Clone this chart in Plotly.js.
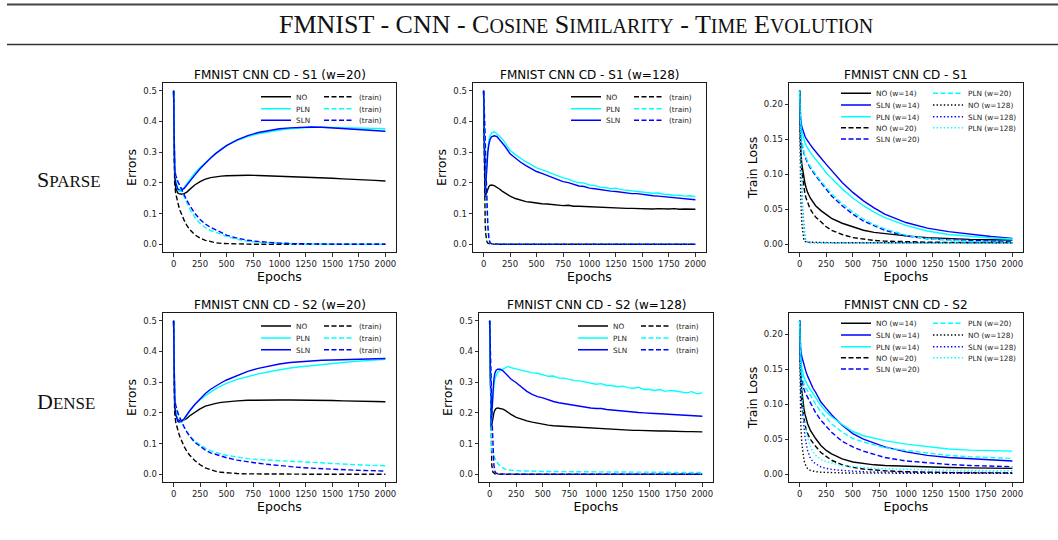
<!DOCTYPE html>
<html><head><meta charset="utf-8">
<script src="https://cdn.plot.ly/plotly-3.0.1.min.js"></script>
<style>html,body{margin:0;padding:0;background:#fff}#chart{width:1058px;height:540px}</style>
</head><body><div id="chart"></div>
<script>
// ---------------- DATA ----------------
const epochs = [0,10,20,30,40,50,60,75,100,125,150,200,250,300,350,400,450,500,600,700,800,900,1000,1100,1200,1300,1400,1500,1600,1700,1800,1900,2000];
const epochs128 = [0,5,10,15,20,30,40,50,60,75,100,125,150,175,200,250,300,350,400,450,500,550,600,650,700,750,800,850,900,950,1000,1050,1100,1150,1200,1250,1300,1350,1400,1450,1500,1550,1600,1650,1700,1750,1800,1850,1900,1950,2000];
const epochsLoss = [0,5,10,20,30,40,50,60,75,100,125,150,200,250,300,400,500,600,700,800,1000,1200,1400,1600,1800,2000];
const xTicks = [0,250,500,750,1000,1250,1500,1750,2000];
const errTicks = [0,0.1,0.2,0.3,0.4,0.5];
const lossTicks = [0,0.05,0.10,0.15,0.20];

// S1 (w=20)
const s1w20_NO  = [0.5,0.23,0.185,0.172,0.167,0.165,0.164,0.163,0.165,0.170,0.178,0.193,0.204,0.212,0.217,0.220,0.222,0.223,0.225,0.225,0.224,0.223,0.222,0.221,0.220,0.219,0.217,0.215,0.213,0.212,0.210,0.208,0.206];
const s1w20_PLN = [0.5,0.26,0.205,0.185,0.177,0.173,0.172,0.174,0.185,0.198,0.210,0.232,0.250,0.266,0.282,0.297,0.310,0.322,0.338,0.351,0.360,0.367,0.372,0.376,0.379,0.381,0.381,0.380,0.379,0.378,0.377,0.377,0.376];
const s1w20_SLN = [0.5,0.25,0.2,0.185,0.18,0.178,0.177,0.177,0.182,0.192,0.203,0.225,0.246,0.264,0.281,0.296,0.309,0.321,0.340,0.354,0.364,0.371,0.376,0.379,0.381,0.382,0.381,0.379,0.377,0.375,0.373,0.371,0.368];
const s1w20_NO_train  = [0.5,0.2,0.165,0.148,0.135,0.122,0.111,0.097,0.078,0.062,0.049,0.031,0.020,0.013,0.008,0.005,0.003,0.002,0.001,0.0005,0.0003,0.0002,0.0001,0,0,0,0,0,0,0,0,0,0];
const s1w20_PLN_train = [0.5,0.26,0.22,0.208,0.2,0.192,0.184,0.172,0.153,0.134,0.117,0.088,0.068,0.054,0.045,0.039,0.032,0.026,0.016,0.010,0.0065,0.0045,0.003,0.002,0.0013,0.0008,0.0005,0.0003,0.0002,0.0001,0,0,0];
const s1w20_SLN_train = [0.5,0.25,0.225,0.213,0.205,0.198,0.19,0.178,0.16,0.143,0.128,0.101,0.081,0.066,0.055,0.046,0.037,0.030,0.020,0.013,0.009,0.006,0.004,0.0025,0.0015,0.001,0.0006,0.0004,0.0002,0.0001,0,0,0];

// S1 (w=128)
const s1w128_NO  = [0.5,0.3,0.17,0.155,0.16,0.172,0.182,0.188,0.192,0.193,0.191,0.186,0.18,0.173,0.167,0.157,0.149,0.144,0.139,0.137,0.134,0.132,0.131,0.129,0.128,0.126,0.127,0.124,0.124,0.123,0.123,0.121,0.122,0.119,0.119,0.118,0.118,0.117,0.117,0.116,0.116,0.116,0.115,0.116,0.115,0.115,0.116,0.114,0.115,0.114,0.114];
const s1w128_PLN = [0.5,0.3,0.17,0.16,0.2,0.265,0.31,0.338,0.352,0.362,0.367,0.36,0.352,0.344,0.332,0.306,0.292,0.279,0.268,0.259,0.249,0.243,0.236,0.228,0.222,0.216,0.212,0.205,0.201,0.199,0.193,0.191,0.186,0.185,0.181,0.183,0.178,0.176,0.174,0.172,0.171,0.168,0.166,0.167,0.163,0.162,0.159,0.160,0.157,0.158,0.155];
const s1w128_SLN = [0.5,0.3,0.17,0.16,0.19,0.255,0.3,0.325,0.34,0.35,0.353,0.351,0.341,0.332,0.32,0.295,0.280,0.267,0.256,0.246,0.237,0.231,0.224,0.217,0.210,0.204,0.201,0.196,0.190,0.188,0.183,0.181,0.178,0.177,0.173,0.172,0.169,0.168,0.165,0.165,0.162,0.161,0.158,0.157,0.155,0.154,0.152,0.151,0.149,0.147,0.145];
const s1w128_NO_train  = [0.5,0.3,0.15,0.07,0.035,0.01,0.004,0.002,0.001,0.0005,0,0,0,0,0,0,0,0,0,0,0,0,0,0,0,0,0,0,0,0,0,0,0,0,0,0,0,0,0,0,0,0,0,0,0,0,0,0,0,0,0];
const s1w128_PLN_train = [0.5,0.45,0.4,0.33,0.25,0.12,0.05,0.015,0.005,0.002,0.001,0.0005,0,0,0,0,0,0,0,0,0,0,0,0,0,0,0,0,0,0,0,0,0,0,0,0,0,0,0,0,0,0,0,0,0,0,0,0,0,0,0];
const s1w128_SLN_train = [0.5,0.46,0.41,0.35,0.27,0.14,0.06,0.02,0.006,0.002,0.001,0.0005,0,0,0,0,0,0,0,0,0,0,0,0,0,0,0,0,0,0,0,0,0,0,0,0,0,0,0,0,0,0,0,0,0,0,0,0,0,0,0];

// S1 train loss
const s1L_NO14  = [0.219,0.16,0.135,0.115,0.103,0.094,0.087,0.081,0.074,0.066,0.06,0.055,0.048,0.042,0.037,0.030,0.025,0.020,0.017,0.015,0.012,0.0095,0.008,0.007,0.0065,0.006];
const s1L_SLN14 = [0.219,0.19,0.178,0.168,0.162,0.158,0.154,0.151,0.147,0.142,0.137,0.132,0.123,0.114,0.105,0.088,0.074,0.062,0.052,0.043,0.031,0.023,0.018,0.014,0.011,0.0085];
const s1L_PLN14 = [0.219,0.185,0.172,0.161,0.154,0.149,0.145,0.141,0.137,0.131,0.126,0.121,0.112,0.102,0.094,0.079,0.066,0.055,0.046,0.038,0.027,0.019,0.014,0.011,0.009,0.0076];
const s1L_NO20  = [0.219,0.15,0.125,0.104,0.09,0.08,0.072,0.066,0.059,0.05,0.044,0.039,0.032,0.025,0.02,0.014,0.0095,0.007,0.0055,0.0045,0.0035,0.003,0.0027,0.0025,0.0024,0.0024];
const s1L_SLN20 = [0.219,0.175,0.16,0.145,0.136,0.13,0.125,0.121,0.116,0.109,0.103,0.098,0.088,0.078,0.069,0.055,0.043,0.033,0.026,0.020,0.012,0.008,0.0065,0.005,0.0045,0.004];
const s1L_PLN20 = [0.219,0.178,0.162,0.147,0.138,0.132,0.127,0.123,0.118,0.111,0.105,0.1,0.09,0.081,0.072,0.058,0.046,0.036,0.028,0.022,0.013,0.008,0.0055,0.004,0.003,0.0025];
const s1L_NO128  = [0.219,0.12,0.07,0.03,0.012,0.006,0.004,0.0035,0.003,0.003,0.0028,0.0027,0.0025,0.0024,0.0023,0.0022,0.0021,0.0021,0.002,0.002,0.002,0.002,0.002,0.002,0.002,0.002];
const s1L_SLN128 = [0.219,0.17,0.13,0.08,0.045,0.022,0.01,0.005,0.003,0.0025,0.0023,0.0022,0.0021,0.002,0.002,0.0019,0.0019,0.0018,0.0018,0.0018,0.0017,0.0017,0.0017,0.0017,0.0017,0.0017];
const s1L_PLN128 = [0.219,0.165,0.125,0.075,0.04,0.02,0.009,0.005,0.003,0.0024,0.0021,0.002,0.0019,0.0018,0.0017,0.0016,0.0016,0.0015,0.0015,0.0015,0.0015,0.0015,0.0015,0.0015,0.0015,0.0015];

// S2 (w=20)
const s2w20_NO  = [0.5,0.23,0.195,0.183,0.178,0.176,0.175,0.175,0.177,0.182,0.19,0.203,0.213,0.222,0.227,0.231,0.234,0.236,0.239,0.241,0.242,0.242,0.242,0.242,0.242,0.242,0.241,0.240,0.239,0.239,0.238,0.237,0.236];
const s2w20_PLN = [0.5,0.26,0.2,0.18,0.173,0.17,0.169,0.17,0.178,0.192,0.205,0.226,0.243,0.256,0.268,0.279,0.288,0.296,0.309,0.319,0.327,0.334,0.341,0.346,0.350,0.354,0.358,0.361,0.364,0.367,0.370,0.372,0.374];
const s2w20_SLN = [0.5,0.25,0.195,0.178,0.172,0.17,0.17,0.172,0.181,0.194,0.206,0.227,0.246,0.263,0.277,0.288,0.298,0.307,0.322,0.335,0.345,0.353,0.359,0.364,0.367,0.369,0.371,0.372,0.373,0.374,0.375,0.376,0.377];
const s2w20_NO_train  = [0.5,0.2,0.17,0.155,0.143,0.132,0.122,0.109,0.09,0.075,0.063,0.045,0.031,0.021,0.014,0.0095,0.0065,0.0045,0.0025,0.0015,0.001,0.0007,0.0005,0.0004,0.0003,0.0002,0.0002,0.0001,0.0001,0.0001,0,0,0];
const s2w20_PLN_train = [0.5,0.26,0.22,0.207,0.198,0.19,0.182,0.17,0.153,0.138,0.126,0.108,0.095,0.085,0.077,0.071,0.066,0.062,0.056,0.051,0.048,0.046,0.0445,0.042,0.040,0.038,0.036,0.0345,0.033,0.031,0.030,0.029,0.028];
const s2w20_SLN_train = [0.5,0.25,0.225,0.21,0.2,0.191,0.183,0.171,0.154,0.138,0.125,0.104,0.09,0.079,0.07,0.064,0.058,0.054,0.046,0.040,0.036,0.032,0.028,0.025,0.022,0.020,0.018,0.0165,0.015,0.0135,0.0125,0.0115,0.0108];

// S2 (w=128)
const s2w128_NO  = [0.5,0.3,0.17,0.152,0.16,0.185,0.2,0.209,0.214,0.216,0.215,0.212,0.207,0.2,0.195,0.185,0.179,0.174,0.170,0.166,0.163,0.160,0.158,0.157,0.155,0.154,0.153,0.151,0.151,0.149,0.148,0.147,0.147,0.145,0.145,0.144,0.144,0.143,0.143,0.142,0.142,0.142,0.141,0.141,0.140,0.140,0.140,0.139,0.139,0.138,0.138];
const s2w128_PLN = [0.5,0.3,0.17,0.155,0.19,0.25,0.29,0.31,0.322,0.332,0.338,0.343,0.348,0.351,0.347,0.343,0.338,0.336,0.330,0.329,0.325,0.319,0.320,0.313,0.313,0.309,0.305,0.304,0.300,0.297,0.293,0.295,0.289,0.289,0.285,0.287,0.282,0.280,0.283,0.276,0.277,0.273,0.276,0.270,0.273,0.271,0.267,0.265,0.269,0.262,0.265];
const s2w128_SLN = [0.5,0.3,0.17,0.155,0.2,0.27,0.31,0.33,0.338,0.342,0.342,0.337,0.328,0.318,0.31,0.298,0.284,0.270,0.260,0.253,0.249,0.242,0.237,0.233,0.230,0.227,0.223,0.221,0.219,0.216,0.214,0.214,0.211,0.209,0.207,0.205,0.204,0.203,0.201,0.200,0.198,0.198,0.197,0.196,0.195,0.194,0.193,0.192,0.191,0.190,0.189];
const s2w128_NO_train  = [0.5,0.35,0.2,0.08,0.03,0.008,0.003,0.0015,0.001,0.0005,0,0,0,0,0,0,0,0,0,0,0,0,0,0,0,0,0,0,0,0,0,0,0,0,0,0,0,0,0,0,0,0,0,0,0,0,0,0,0,0,0];
const s2w128_PLN_train = [0.5,0.4,0.25,0.12,0.08,0.065,0.058,0.05,0.044,0.036,0.026,0.02,0.016,0.014,0.013,0.012,0.011,0.011,0.010,0.010,0.0095,0.009,0.009,0.0088,0.0085,0.0083,0.008,0.008,0.0078,0.0076,0.0075,0.0074,0.0072,0.0071,0.007,0.007,0.0069,0.0068,0.0067,0.0066,0.0065,0.0065,0.0064,0.0063,0.0062,0.0062,0.0061,0.006,0.006,0.006,0.006];
const s2w128_SLN_train = [0.5,0.45,0.38,0.3,0.2,0.08,0.03,0.01,0.004,0.002,0.001,0.0008,0.0006,0.0005,0.0004,0,0,0,0,0,0,0,0,0,0,0,0,0,0,0,0,0,0,0,0,0,0,0,0,0,0,0,0,0,0,0,0,0,0,0,0];

// S2 train loss
const s2L_NO14  = [0.219,0.165,0.142,0.12,0.105,0.094,0.086,0.08,0.072,0.063,0.057,0.051,0.041,0.034,0.029,0.022,0.0175,0.015,0.0135,0.0125,0.0113,0.0103,0.0097,0.0092,0.0088,0.0085];
const s2L_SLN14 = [0.219,0.19,0.178,0.168,0.162,0.158,0.152,0.146,0.14,0.131,0.123,0.117,0.103,0.094,0.085,0.07,0.058,0.05,0.044,0.039,0.032,0.027,0.024,0.022,0.020,0.019];
const s2L_PLN14 = [0.219,0.182,0.166,0.152,0.144,0.139,0.135,0.131,0.127,0.121,0.115,0.109,0.098,0.089,0.082,0.071,0.061,0.055,0.051,0.048,0.043,0.039,0.036,0.0345,0.0335,0.033];
const s2L_NO20  = [0.219,0.15,0.125,0.1,0.088,0.078,0.071,0.065,0.058,0.05,0.044,0.04,0.031,0.025,0.02,0.0135,0.0098,0.0075,0.006,0.005,0.0037,0.0028,0.0024,0.0021,0.002,0.0019];
const s2L_SLN20 = [0.219,0.17,0.152,0.137,0.128,0.122,0.117,0.114,0.11,0.103,0.095,0.088,0.077,0.068,0.06,0.047,0.039,0.033,0.028,0.024,0.019,0.016,0.014,0.0125,0.0115,0.0108];
const s2L_PLN20 = [0.219,0.175,0.158,0.143,0.135,0.129,0.125,0.122,0.119,0.113,0.106,0.1,0.089,0.08,0.072,0.06,0.051,0.046,0.042,0.038,0.034,0.030,0.027,0.025,0.0235,0.0226];
const s2L_NO128  = [0.219,0.12,0.075,0.045,0.03,0.021,0.015,0.011,0.008,0.0055,0.0045,0.0038,0.003,0.0025,0.0022,0.0019,0.0017,0.0016,0.0015,0.0015,0.0014,0.0014,0.0013,0.0013,0.0013,0.0013];
const s2L_SLN128 = [0.219,0.16,0.13,0.1,0.08,0.065,0.054,0.045,0.034,0.023,0.018,0.015,0.0105,0.0085,0.007,0.0055,0.0042,0.0036,0.0032,0.003,0.0028,0.0027,0.0026,0.0025,0.0025,0.0024];
const s2L_PLN128 = [0.219,0.17,0.145,0.115,0.095,0.08,0.072,0.063,0.052,0.04,0.032,0.027,0.021,0.018,0.016,0.0125,0.011,0.0095,0.0085,0.0078,0.0068,0.006,0.0057,0.0054,0.0052,0.005];

// ---------------- LAYOUT HELPERS ----------------
const W = 1058, H = 540;
const px = v => v / W;
const py = v => 1 - v / H;
const C = {NO: '#000000', PLN: '#00ffff', SLN: '#0000ff'};
const DASH = {solid: 'solid', dash: '5px,2.5px', dot: '1.4px,2.2px'};
const FONT = 'DejaVu Sans, Verdana, sans-serif';

const panels = [
  {title: 'FMNIST CNN CD - S1 (w=20)',  x: [163, 396], y: [83, 252],  ytitle: 'Errors', range: [-0.025, 0.525], ticks: errTicks, fmt: '.1f',
   rows: [96.7, 108.7, 120.3], legLeft: 256, entry: 18,
   series: [[epochs, s1w20_NO, 'NO', 'solid', 'NO', 0], [epochs, s1w20_PLN, 'PLN', 'solid', 'PLN', 1], [epochs, s1w20_SLN, 'SLN', 'solid', 'SLN', 2],
            [epochs, s1w20_NO_train, 'NO', 'dash', '(train)', 0], [epochs, s1w20_PLN_train, 'PLN', 'dash', '(train)', 1], [epochs, s1w20_SLN_train, 'SLN', 'dash', '(train)', 2]]},
  {title: 'FMNIST CNN CD - S1 (w=128)', x: [473, 706], y: [83, 252],  ytitle: 'Errors', range: [-0.025, 0.525], ticks: errTicks, fmt: '.1f',
   rows: [96.7, 108.7, 120.3], legLeft: 566, entry: 18,
   series: [[epochs128, s1w128_NO, 'NO', 'solid', 'NO', 0], [epochs128, s1w128_PLN, 'PLN', 'solid', 'PLN', 1], [epochs128, s1w128_SLN, 'SLN', 'solid', 'SLN', 2],
            [epochs128, s1w128_NO_train, 'NO', 'dash', '(train)', 0], [epochs128, s1w128_PLN_train, 'PLN', 'dash', '(train)', 1], [epochs128, s1w128_SLN_train, 'SLN', 'dash', '(train)', 2]]},
  {title: 'FMNIST CNN CD - S1', x: [789, 1023], y: [83, 252],  ytitle: 'Train Loss', range: [-0.011, 0.230], ticks: lossTicks, fmt: '.2f',
   rows: [93.3, 105, 116.7, 127.7, 139], legLeft: 836, entry: 47,
   series: [[epochsLoss, s1L_NO14, 'NO', 'solid', 'NO (w=14)', 0], [epochsLoss, s1L_SLN14, 'SLN', 'solid', 'SLN (w=14)', 1], [epochsLoss, s1L_PLN14, 'PLN', 'solid', 'PLN (w=14)', 2],
            [epochsLoss, s1L_NO20, 'NO', 'dash', 'NO (w=20)', 3], [epochsLoss, s1L_SLN20, 'SLN', 'dash', 'SLN (w=20)', 4], [epochsLoss, s1L_PLN20, 'PLN', 'dash', 'PLN (w=20)', 0],
            [epochsLoss, s1L_NO128, 'NO', 'dot', 'NO (w=128)', 1], [epochsLoss, s1L_SLN128, 'SLN', 'dot', 'SLN (w=128)', 2], [epochsLoss, s1L_PLN128, 'PLN', 'dot', 'PLN (w=128)', 3]]},
  {title: 'FMNIST CNN CD - S2 (w=20)',  x: [163, 396], y: [313, 482], ytitle: 'Errors', range: [-0.025, 0.525], ticks: errTicks, fmt: '.1f',
   rows: [326, 338, 349.7], legLeft: 256, entry: 18,
   series: [[epochs, s2w20_NO, 'NO', 'solid', 'NO', 0], [epochs, s2w20_PLN, 'PLN', 'solid', 'PLN', 1], [epochs, s2w20_SLN, 'SLN', 'solid', 'SLN', 2],
            [epochs, s2w20_NO_train, 'NO', 'dash', '(train)', 0], [epochs, s2w20_PLN_train, 'PLN', 'dash', '(train)', 1], [epochs, s2w20_SLN_train, 'SLN', 'dash', '(train)', 2]]},
  {title: 'FMNIST CNN CD - S2 (w=128)', x: [479, 713], y: [313, 482], ytitle: 'Errors', range: [-0.025, 0.525], ticks: errTicks, fmt: '.1f',
   rows: [326, 338, 349.7], legLeft: 573, entry: 18,
   series: [[epochs128, s2w128_NO, 'NO', 'solid', 'NO', 0], [epochs128, s2w128_PLN, 'PLN', 'solid', 'PLN', 1], [epochs128, s2w128_SLN, 'SLN', 'solid', 'SLN', 2],
            [epochs128, s2w128_NO_train, 'NO', 'dash', '(train)', 0], [epochs128, s2w128_PLN_train, 'PLN', 'dash', '(train)', 1], [epochs128, s2w128_SLN_train, 'SLN', 'dash', '(train)', 2]]},
  {title: 'FMNIST CNN CD - S2', x: [789, 1023], y: [313, 482], ytitle: 'Train Loss', range: [-0.011, 0.230], ticks: lossTicks, fmt: '.2f',
   rows: [323.3, 335, 346.7, 357.7, 369], legLeft: 836, entry: 47,
   series: [[epochsLoss, s2L_NO14, 'NO', 'solid', 'NO (w=14)', 0], [epochsLoss, s2L_SLN14, 'SLN', 'solid', 'SLN (w=14)', 1], [epochsLoss, s2L_PLN14, 'PLN', 'solid', 'PLN (w=14)', 2],
            [epochsLoss, s2L_NO20, 'NO', 'dash', 'NO (w=20)', 3], [epochsLoss, s2L_SLN20, 'SLN', 'dash', 'SLN (w=20)', 4], [epochsLoss, s2L_PLN20, 'PLN', 'dash', 'PLN (w=20)', 0],
            [epochsLoss, s2L_NO128, 'NO', 'dot', 'NO (w=128)', 1], [epochsLoss, s2L_SLN128, 'SLN', 'dot', 'SLN (w=128)', 2], [epochsLoss, s2L_PLN128, 'PLN', 'dot', 'PLN (w=128)', 3]]}
];

const data = [];
const layout = {
  width: W, height: H, margin: {l: 0, r: 0, t: 0, b: 0},
  paper_bgcolor: '#ffffff', plot_bgcolor: '#ffffff',
  font: {family: FONT, color: '#000'},
  showlegend: true, annotations: [], shapes: []
};

let legendCount = 0;
panels.forEach((p, i) => {
  const n = i + 1;
  const xa = 'xaxis' + (n === 1 ? '' : n), ya = 'yaxis' + (n === 1 ? '' : n);
  const xr = 'x' + (n === 1 ? '' : n), yr = 'y' + (n === 1 ? '' : n);
  const axCommon = {showline: true, mirror: true, linecolor: '#1a1a1a', linewidth: 1, ticks: 'outside', ticklen: 3.5, tickwidth: 0.9,
    tickcolor: '#1a1a1a', showgrid: false, zeroline: false, tickfont: {family: FONT, size: 8.5, color: '#222'}, automargin: false};
  layout[xa] = Object.assign({}, axCommon, {domain: [px(p.x[0]), px(p.x[1])], anchor: yr, range: [-100, 2100], tickvals: xTicks,
    title: {text: 'Epochs', font: {family: FONT, size: 12.5, color: '#000'}, standoff: 2}});
  layout[ya] = Object.assign({}, axCommon, {domain: [py(p.y[1]), py(p.y[0])], anchor: xr, range: p.range, tickvals: p.ticks, tickformat: p.fmt,
    title: {text: p.ytitle, font: {family: FONT, size: 12.5, color: '#000'}, standoff: 3}});

  // row legends
  const legIds = p.rows.map((ry) => {
    legendCount += 1;
    const id = 'legend' + (legendCount === 1 ? '' : legendCount);
    layout[id] = {x: px(p.legLeft), xanchor: 'left', y: py(ry), yanchor: 'middle', orientation: 'h',
      entrywidth: p.entry, entrywidthmode: 'pixels', bgcolor: 'rgba(0,0,0,0)', borderwidth: 0,
      font: {family: FONT, size: 7.3, color: '#222'}, itemclick: false, itemdoubleclick: false, tracegroupgap: 0};
    return id;
  });

  p.series.forEach(s => {
    const [xs, ys, kind, dash, label, row] = s;
    data.push({type: 'scatter', mode: 'lines', x: xs, y: ys, xaxis: xr, yaxis: yr, name: label,
      legend: legIds[row], showlegend: true, hoverinfo: 'skip',
      line: {color: C[kind], width: 1.4, dash: DASH[dash]}});
  });

  layout.annotations.push({text: p.title, xref: 'paper', yref: 'paper', x: px((p.x[0] + p.x[1]) / 2), y: py(p.y[0] - 8),
    xanchor: 'center', yanchor: 'middle', showarrow: false, font: {family: FONT, size: 12, color: '#000'}});
});

// main header
const SC = 'font-size:20px';
layout.annotations.push({
  text: 'FMNIST - CNN - C<span style="' + SC + '">OSINE</span> S<span style="' + SC + '">IMILARITY</span> - T<span style="' + SC + '">IME</span> E<span style="' + SC + '">VOLUTION</span>',
  xref: 'paper', yref: 'paper', x: px(576), y: py(24.5), xanchor: 'center', yanchor: 'middle', showarrow: false,
  font: {family: 'Liberation Serif, Times New Roman, serif', size: 26, color: '#111'}});
const RC = 'font-size:17px';
layout.annotations.push({text: 'S<span style="' + RC + '">PARSE</span>', xref: 'paper', yref: 'paper', x: px(35), y: py(179),
  xanchor: 'left', yanchor: 'middle', showarrow: false, font: {family: 'Liberation Serif, Times New Roman, serif', size: 22, color: '#111'}});
layout.annotations.push({text: 'D<span style="' + RC + '">ENSE</span>', xref: 'paper', yref: 'paper', x: px(35), y: py(401),
  xanchor: 'left', yanchor: 'middle', showarrow: false, font: {family: 'Liberation Serif, Times New Roman, serif', size: 22, color: '#111'}});

layout.shapes.push({type: 'line', xref: 'paper', yref: 'paper', x0: px(7), x1: 1, y0: py(4.5), y1: py(4.5), line: {color: '#444', width: 2}});
layout.shapes.push({type: 'line', xref: 'paper', yref: 'paper', x0: px(7), x1: 1, y0: py(44.5), y1: py(44.5), line: {color: '#333', width: 1.6}});

Plotly.newPlot('chart', data, layout, {displayModeBar: false, staticPlot: true});
</script>
</body></html>
